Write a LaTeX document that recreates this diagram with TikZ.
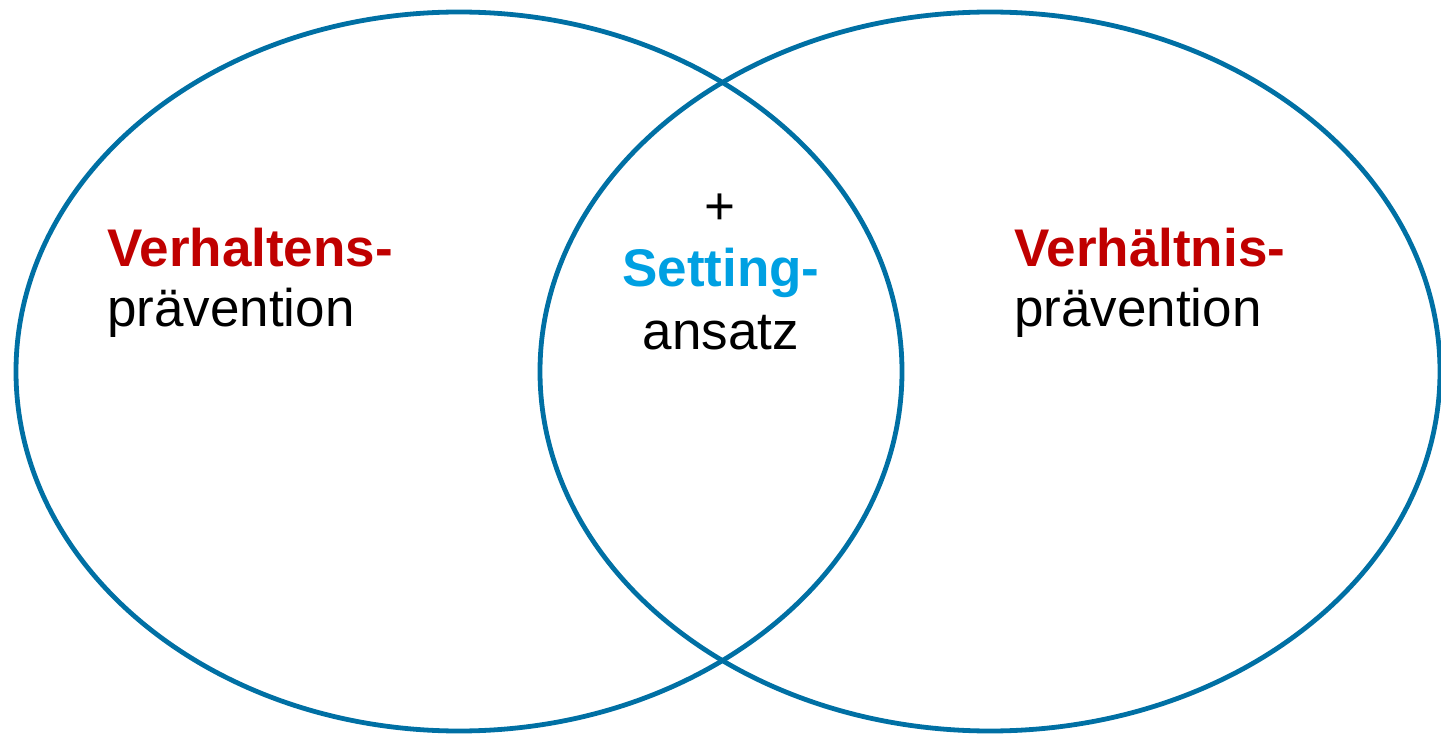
\documentclass[tikz,border=0pt]{standalone}
\usepackage{fontspec}
\setmainfont{Liberation Sans}
\usetikzlibrary{shapes.geometric}
\definecolor{ringblue}{RGB}{0,112,164}
\definecolor{darkred}{RGB}{192,0,0}
\definecolor{skyblue}{RGB}{0,160,226}
\tikzset{
  ring/.style={draw=ringblue, line width=4.8pt, ellipse, inner sep=0pt},
  txt/.style={inner sep=0pt, font=\fontsize{53}{60}\selectfont},
  head/.style={txt, font=\fontsize{53}{60}\selectfont\bfseries, text=darkred},
}
\begin{document}
\begin{tikzpicture}[x=1pt, y=-1pt]
  \useasboundingbox (0,0) rectangle (1441,735);
  % two overlapping rings
  \node[ring, minimum width=886pt, minimum height=719pt] (left) at (459,371.5) {};
  \node[ring, minimum width=900pt, minimum height=719pt] (right) at (990,371.5) {};
  % left label
  \node[head, anchor=base west] (lhead) at (107,267) {Verhaltens-};
  \node[txt, anchor=base west] (lsub) at (107,327) {prävention};
  % right label
  \node[head, anchor=base west] (rhead) at (1014,267) {Verhältnis-};
  \node[txt, anchor=base west] (rsub) at (1014,327) {prävention};
  % overlap label
  \node[txt, anchor=base] (plus) at (720,225) {+};
  \node[txt, font=\fontsize{53}{60}\selectfont\bfseries, text=skyblue, anchor=base] (mhead) at (721,287) {Setting-};
  \node[txt, anchor=base] (msub) at (721,350) {ansatz};
\end{tikzpicture}
\end{document}
